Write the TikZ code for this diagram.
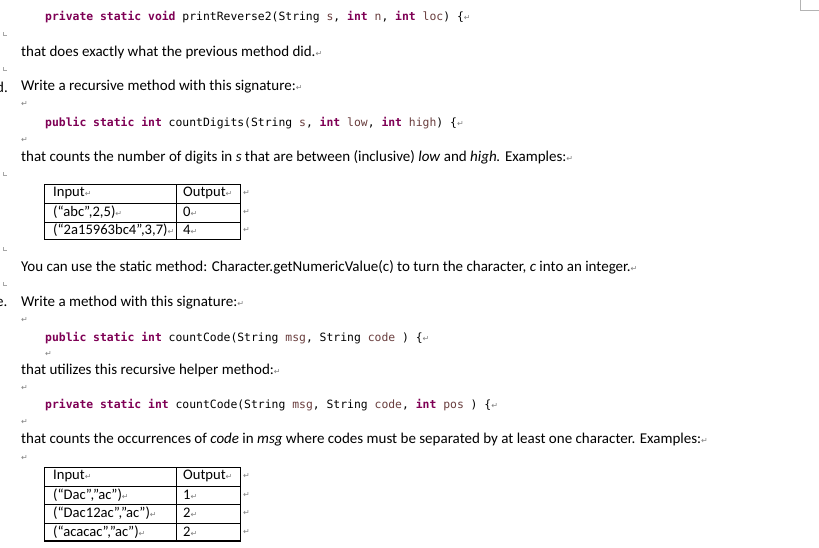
\documentclass[tikz,border=0pt]{standalone}
\usepackage{fontspec}
\setmainfont{Carlito}
\newfontfamily\codef{DejaVu Sans Mono}
\newfontfamily\symf{DejaVu Sans}
\definecolor{kw}{HTML}{7F0055}
\definecolor{pv}{HTML}{6A3E3E}
\definecolor{mk}{HTML}{808080}
\newcommand{\rt}{{\symf\fontsize{8}{8}\selectfont\textcolor{mk}{↵}}}
\newcommand{\kwd}[1]{\textcolor{kw}{\bfseries #1}}
\newcommand{\pvar}[1]{\textcolor{pv}{#1}}
\begin{document}
\begin{tikzpicture}[x=1pt,y=-1pt,
  txt/.style={anchor=west,inner sep=0pt,font=\fontsize{15}{17}\selectfont},
  code/.style={anchor=west,inner sep=0pt,font=\codef\fontsize{11.4}{14}\selectfont},
  rmark/.style={anchor=west,inner sep=0pt},
  cell/.style={anchor=west,inner sep=0pt,font=\fontsize{14.6}{16}\selectfont}]
\useasboundingbox (0,0) rectangle (819,547);
\fill[white] (0,0) rectangle (819,547);
% top-right corner mark
\draw[mk!60,line width=0.6pt] (800,0) -- (800,10) -- (819,10);
% left corner marks
\foreach \yy in {35,70,175,250,285}{\draw[mk!70,line width=0.5pt] (3,\yy-3) -- (3,\yy) -- (7,\yy);}
\node[code] (c1) at (45,17) {\kwd{private} \kwd{static} \kwd{void} printReverse2(String \pvar{s}, \kwd{int} \pvar{n}, \kwd{int} \pvar{loc}) \{\rt};
\node[txt] (t1) at (21,52) {that does exactly what the previous method did.\rt};
\node[txt] (d) at (-4,87) {d.};
\node[txt] (t2) at (21,87) {Write a recursive method with this signature:\rt};
\node[rmark] (m1) at (21,104) {\rt};
\node[code] (c2) at (45,123) {\kwd{public} \kwd{static} \kwd{int} countDigits(String \pvar{s}, \kwd{int} \pvar{low}, \kwd{int} \pvar{high}) \{\rt};
\node[rmark] (m2) at (21,140) {\rt};
\node[txt] (t3) at (21,157) {that counts the number of digits in \textit{s} that are between (inclusive) \textit{low} and \textit{high.} Examples:\rt};
% table 1
\draw[line width=0.8pt] (44,184) rectangle (240,239);
\draw[line width=0.8pt] (44,203) -- (240,203) (44,222) -- (240,222) (176,184) -- (176,239);
\node[cell] (a1) at (53,193) {Input\rt};
\node[cell] (a2) at (183,193) {Output\rt};
\node[rmark] at (243,193) {\rt};
\node[cell] (a3) at (53,212) {(“abc”,2,5)\rt};
\node[cell] (a4) at (183,212) {0\rt};
\node[rmark] at (243,212) {\rt};
\node[cell] (a5) at (53,230) {(“2a15963bc4”,3,7)\rt};
\node[cell] (a6) at (183,230) {4\rt};
\node[rmark] at (243,230) {\rt};
\node[txt] (t4) at (21,267) {You can use the static method: Character.getNumericValue(c) to turn the character, \textit{c} into an integer.\rt};
\node[txt] (e) at (-4,303) {e.};
\node[txt] (t5) at (21,303) {Write a method with this signature:\rt};
\node[rmark] (m3) at (21,320) {\rt};
\node[code] (c3) at (45,338) {\kwd{public} \kwd{static} \kwd{int} countCode(String \pvar{msg}, String \pvar{code} ) \{\rt};
\node[rmark] (m4) at (45,354) {\rt};
\node[txt] (t6) at (21,370) {that utilizes this recursive helper method:\rt};
\node[rmark] (m5) at (21,388) {\rt};
\node[code] (c4) at (45,405) {\kwd{private} \kwd{static} \kwd{int} countCode(String \pvar{msg}, String \pvar{code}, \kwd{int} \pvar{pos} ) \{\rt};
\node[rmark] (m6) at (21,422) {\rt};
\node[txt] (t7) at (21,440) {that counts the occurrences of \textit{code} in \textit{msg} where codes must be separated by at least one character. Examples:\rt};
\node[rmark] (m7) at (21,458) {\rt};
% table 2
\draw[line width=0.8pt] (44,467) rectangle (240,541);
\draw[line width=0.8pt] (44,486) -- (240,486) (44,504) -- (240,504) (44,523) -- (240,523) (176,467) -- (176,541);
\draw[line width=1.6pt] (44,541) -- (240,541);
\node[cell] (b1) at (53,476) {Input\rt};
\node[cell] (b2) at (183,476) {Output\rt};
\node[rmark] at (243,476) {\rt};
\node[cell] (b3) at (53,495) {(“Dac”,”ac”)\rt};
\node[cell] (b4) at (183,495) {1\rt};
\node[rmark] at (243,495) {\rt};
\node[cell] (b5) at (53,513) {(“Dac12ac”,”ac”)\rt};
\node[cell] (b6) at (183,513) {2\rt};
\node[rmark] at (243,513) {\rt};
\node[cell] (b7) at (53,532) {(“acacac”,”ac”)\rt};
\node[cell] (b8) at (183,532) {2\rt};
\node[rmark] at (243,532) {\rt};
\end{tikzpicture}
\end{document}
